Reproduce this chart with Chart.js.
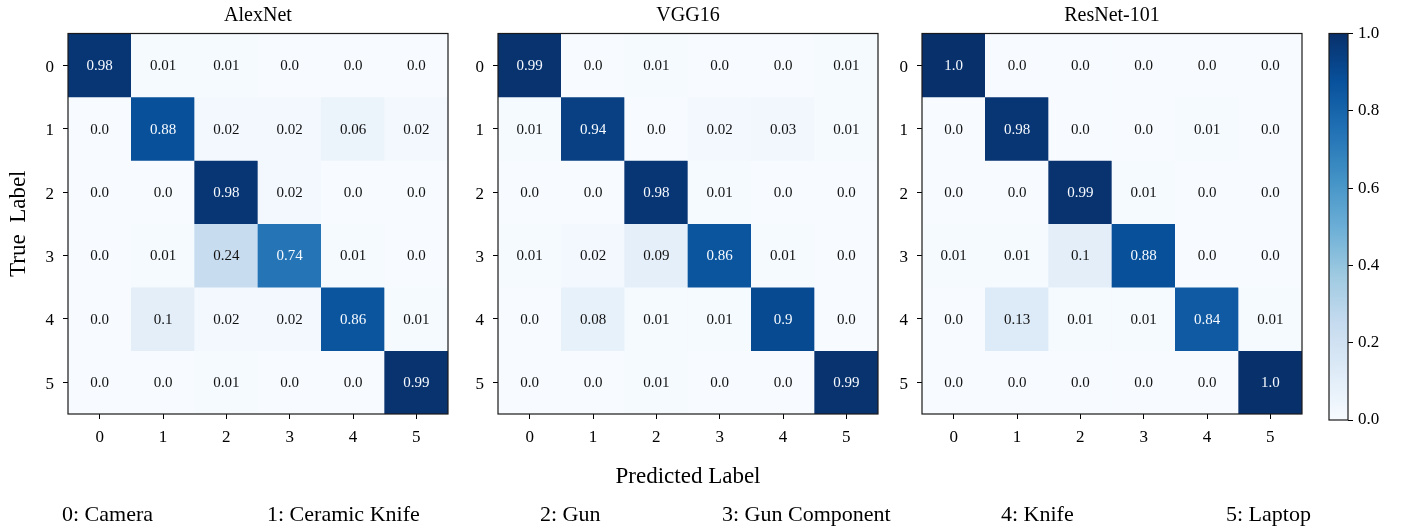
<!DOCTYPE html>
<html>
<head>
<meta charset="utf-8">
<script src="https://cdn.jsdelivr.net/npm/chart.js@4.4.1/dist/chart.umd.min.js"></script>
<style>
    html, body { margin: 0; padding: 0; background: #fff; }
    #figure { position: relative; width: 1406px; height: 527px; overflow: hidden; font-family: "Liberation Serif", serif; }
    #figure canvas { position: absolute; top: 0; }
    .legend-item { position: absolute; top: 500px; font-size: 22px; line-height: 28px; color: #000; white-space: pre; }
</style>
</head>
<body>
<div id="figure">
    <canvas id="alexnet" width="460" height="527" style="left:0px"></canvas>
    <canvas id="vgg16" width="460" height="527" style="left:430px"></canvas>
    <canvas id="resnet" width="460" height="527" style="left:854px"></canvas>
    <canvas id="colorbar" width="106" height="527" style="left:1300px"></canvas>
</div>
<script>
const classIds = ["0", "1", "2", "3", "4", "5"];
const classNames = ["Camera", "Ceramic Knife", "Gun", "Gun Component", "Knife", "Laptop"];

// rows = true label, columns = predicted label
const alexnet = [
    [0.98, 0.01, 0.01, 0.0, 0.0, 0.0],
    [0.0, 0.88, 0.02, 0.02, 0.06, 0.02],
    [0.0, 0.0, 0.98, 0.02, 0.0, 0.0],
    [0.0, 0.01, 0.24, 0.74, 0.01, 0.0],
    [0.0, 0.1, 0.02, 0.02, 0.86, 0.01],
    [0.0, 0.0, 0.01, 0.0, 0.0, 0.99],
];
const vgg16 = [
    [0.99, 0.0, 0.01, 0.0, 0.0, 0.01],
    [0.01, 0.94, 0.0, 0.02, 0.03, 0.01],
    [0.0, 0.0, 0.98, 0.01, 0.0, 0.0],
    [0.01, 0.02, 0.09, 0.86, 0.01, 0.0],
    [0.0, 0.08, 0.01, 0.01, 0.9, 0.0],
    [0.0, 0.0, 0.01, 0.0, 0.0, 0.99],
];
const resnet101 = [
    [1.0, 0.0, 0.0, 0.0, 0.0, 0.0],
    [0.0, 0.98, 0.0, 0.0, 0.01, 0.0],
    [0.0, 0.0, 0.99, 0.01, 0.0, 0.0],
    [0.01, 0.01, 0.1, 0.88, 0.0, 0.0],
    [0.0, 0.13, 0.01, 0.01, 0.84, 0.01],
    [0.0, 0.0, 0.0, 0.0, 0.0, 1.0],
];
const colorbarRange = [0, 1];
const colorbarTicks = [0, 0.2, 0.4, 0.6, 0.8, 1.0];

// layout only
const legendLeft = [62, 267, 540, 722, 1001, 1226];

// matplotlib "Blues"
const BLUES = ["#f7fbff", "#deebf7", "#c6dbef", "#9ecae1", "#6baed6", "#4292c6", "#2171b5", "#08519c", "#08306b"];

function hexToRgb(hex) {
    const n = parseInt(hex.slice(1), 16);
    return [(n >> 16) & 255, (n >> 8) & 255, n & 255];
}

function blues(v) {
    const t = Math.min(Math.max(v, 0), 1) * (BLUES.length - 1);
    const i = Math.min(Math.floor(t), BLUES.length - 2);
    const f = t - i;
    const a = hexToRgb(BLUES[i]);
    const b = hexToRgb(BLUES[i + 1]);
    const c = a.map((ch, k) => Math.round(ch + (b[k] - ch) * f));
    return `rgb(${c[0]}, ${c[1]}, ${c[2]})`;
}

function formatValue(v) {
    return Math.round(v * 100) % 10 === 0 ? v.toFixed(1) : v.toFixed(2);
}

Chart.defaults.font.family = '"Liberation Serif", "Times New Roman", serif';
Chart.defaults.color = "#000";

const framePlugin = {
    id: "frame",
    afterDraw(chart) {
        const { ctx, chartArea } = chart;
        ctx.save();
        ctx.strokeStyle = "#1a1a1a";
        ctx.lineWidth = 1.2;
        ctx.strokeRect(chartArea.left, chartArea.top, chartArea.right - chartArea.left, chartArea.bottom - chartArea.top);
        ctx.restore();
    },
};

const cellTextPlugin = {
    id: "cellText",
    afterDatasetsDraw(chart, args, opts) {
        const { ctx } = chart;
        const matrix = opts.matrix;
        ctx.save();
        ctx.font = '15px "Liberation Serif", serif';
        ctx.textAlign = "center";
        ctx.textBaseline = "middle";
        chart.data.datasets.forEach((ds, row) => {
            chart.getDatasetMeta(row).data.forEach((bar, col) => {
                const v = matrix[row][col];
                const { x, y, base } = bar.getProps(["x", "y", "base"], true);
                ctx.fillStyle = v > 0.5 ? "#f7fbff" : "#111";
                ctx.fillText(formatValue(v), x, (y + base) / 2 + 1);
            });
        });
        ctx.restore();
    },
};

function confusionChart(canvasId, title, matrix, xTitle, yTitle) {
    return new Chart(document.getElementById(canvasId), {
        type: "bar",
        data: {
            labels: classIds,
            datasets: matrix.map((rowValues, row) => ({
                data: rowValues.map(() => [row, row + 1]),
                backgroundColor: rowValues.map(blues),
                borderWidth: 0,
                barPercentage: 1,
                categoryPercentage: 1,
                grouped: false,
            })),
        },
        options: {
            responsive: false,
            animation: false,
            events: [],
            layout: { padding: { right: 12 } },
            plugins: {
                legend: { display: false },
                tooltip: { enabled: false },
                title: {
                    display: true,
                    text: title,
                    fullSize: false,
                    font: { size: 20, weight: "normal", lineHeight: 1.2 },
                    padding: { top: 4, bottom: 5.5 },
                    color: "#000",
                },
                cellText: { matrix },
            },
            scales: {
                x: {
                    offset: true,
                    grid: { offset: false, drawOnChartArea: false, tickLength: 5, color: "#000" },
                    border: { display: false },
                    ticks: { font: { size: 17 }, padding: 8, color: "#000" },
                    title: {
                        display: !!xTitle,
                        text: xTitle || "",
                        font: { size: 23 },
                        padding: { top: 0, bottom: 36 },
                        color: "#000",
                    },
                    afterFit: (scale) => { scale.height = 113; },
                },
                y: {
                    min: 0,
                    max: classIds.length,
                    reverse: true,
                    afterBuildTicks: (axis) => {
                        axis.ticks = classIds.map((_, i) => ({ value: i + 0.5 }));
                    },
                    grid: { drawOnChartArea: false, tickLength: 5, color: "#000" },
                    border: { display: false },
                    ticks: { font: { size: 17 }, padding: 9, labelOffset: 2, color: "#000", callback: (v, i) => classIds[i] },
                    title: {
                        display: !!yTitle,
                        text: yTitle || "",
                        font: { size: 23 },
                        padding: { top: 5, bottom: 0 },
                        color: "#000",
                    },
                    afterFit: (scale) => { scale.width = 68; },
                },
            },
        },
        plugins: [cellTextPlugin, framePlugin],
    });
}

confusionChart("alexnet", "AlexNet", alexnet, null, "True  Label");
confusionChart("vgg16", "VGG16", vgg16, "Predicted Label", null);
confusionChart("resnet", "ResNet-101", resnet101, null, null);

new Chart(document.getElementById("colorbar"), {
    type: "bar",
    data: {
        labels: [""],
        datasets: [{
            data: [colorbarRange],
            backgroundColor: (context) => {
                const { ctx, chartArea } = context.chart;
                if (!chartArea) return BLUES[0];
                const g = ctx.createLinearGradient(0, chartArea.bottom, 0, chartArea.top);
                BLUES.forEach((c, i) => g.addColorStop(i / (BLUES.length - 1), c));
                return g;
            },
            borderWidth: 0,
            barPercentage: 1,
            categoryPercentage: 1,
        }],
    },
    options: {
        responsive: false,
        animation: false,
        events: [],
        layout: { padding: { left: 29, top: 33.5, bottom: 107, right: 0 } },
        plugins: { legend: { display: false }, tooltip: { enabled: false } },
        scales: {
            x: { display: false },
            y: {
                position: "right",
                min: colorbarRange[0],
                max: colorbarRange[1],
                afterBuildTicks: (axis) => {
                    axis.ticks = colorbarTicks.map((v) => ({ value: v }));
                },
                grid: { drawOnChartArea: false, tickLength: 5, color: "#000" },
                border: { display: false },
                ticks: { font: { size: 17 }, padding: 5, color: "#000", callback: (v) => Number(v).toFixed(1) },
                afterFit: (scale) => { scale.width = 58; },
            },
        },
    },
    plugins: [framePlugin],
});

const figure = document.getElementById("figure");
classNames.forEach((name, i) => {
    const span = document.createElement("span");
    span.className = "legend-item";
    span.style.left = legendLeft[i] + "px";
    span.textContent = `${classIds[i]}: ${name}`;
    figure.appendChild(span);
});
</script>
</body>
</html>
